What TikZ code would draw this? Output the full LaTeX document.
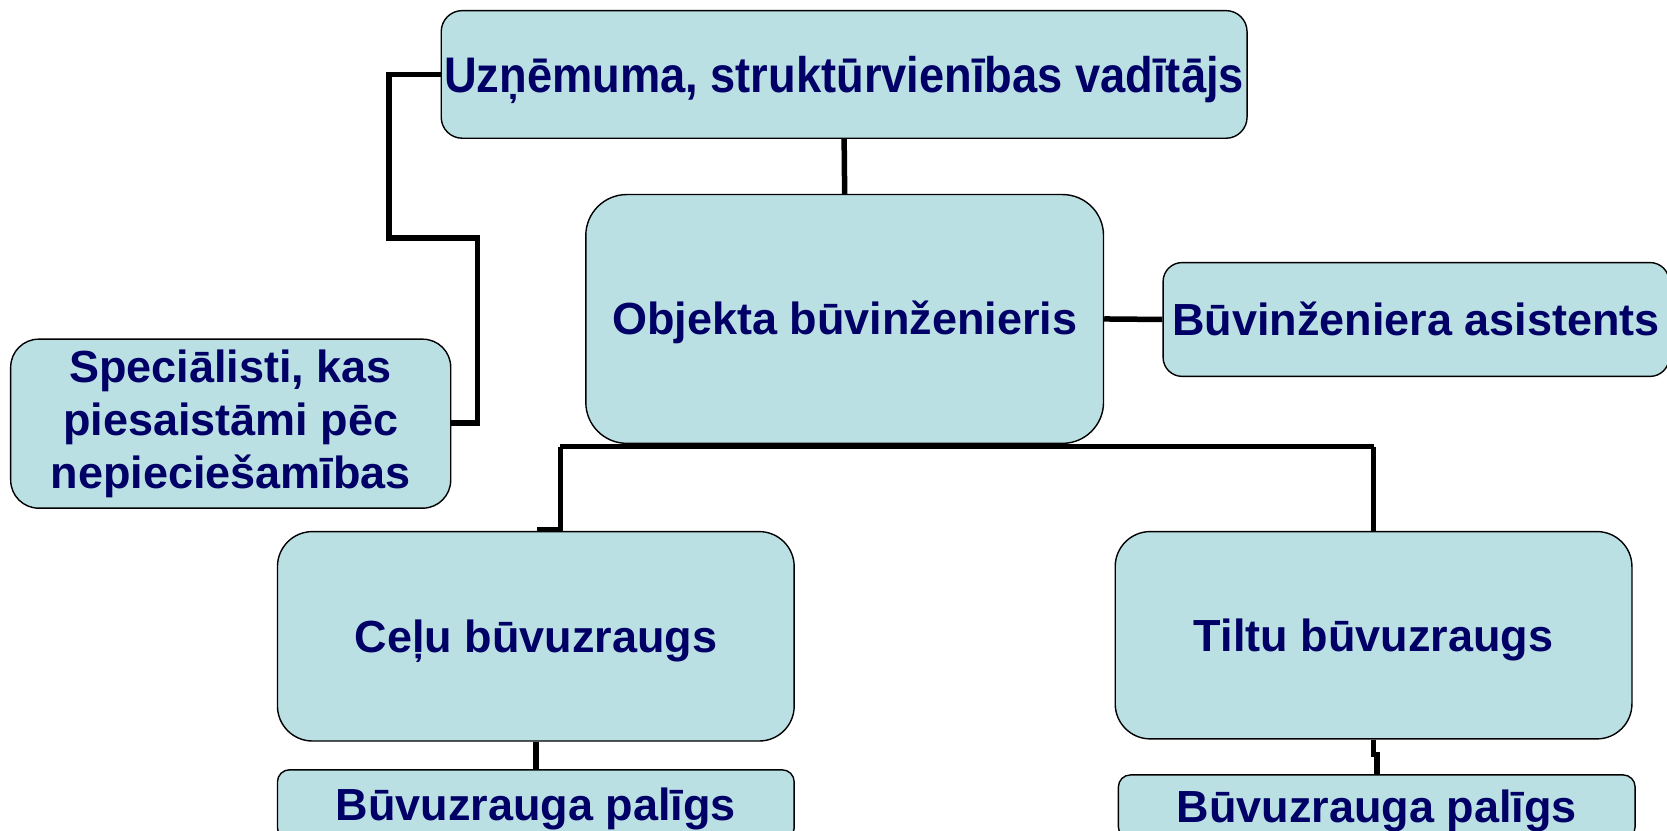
\documentclass[tikz,border=0pt]{standalone}
\usepackage{fontspec}
\setmainfont{Liberation Sans}
\definecolor{boxfill}{RGB}{187,224,227}
\definecolor{txtc}{RGB}{0,0,102}
\begin{document}
\begin{tikzpicture}[x=1.0631pt,y=-1.0631pt,
  box/.style={draw=black, line width=1.4pt, fill=boxfill, rounded corners=#1,
    text=txtc, inner sep=0pt, font=\fontsize{45}{53}\selectfont\bfseries},
  box/.default=20pt,
  one/.style={text height=40pt, text depth=8pt},
  conn/.style={line width=5.5pt, black}]
\useasboundingbox (0,0) rectangle (1568,781);
\clip (0,0) rectangle (1568,781);
\node[box=21pt, minimum width=805.8pt, minimum height=127.6pt,
  font=\fontsize{50}{58}\selectfont\bfseries, text height=44pt, text depth=8pt]
  (top) at (794,70) {\scalebox{0.905}[1]{Uzņēmuma, struktūrvienības vadītājs}};
\node[box=41pt, one, minimum width=517.7pt, minimum height=248.8pt]
  (obj) at (794.5,300) {Objekta būvinženieris};
\node[box=19pt, one, minimum width=506pt, minimum height=113.8pt]
  (asist) at (1332,300.5) {Būvinženiera asistents};
\node[box=28pt, align=center, minimum width=440pt, minimum height=169pt]
  (spec) at (217,398.5) {Speciālisti, kas\\piesaistāmi pēc\\nepieciešamības};
\node[box=35pt, one, minimum width=516.7pt, minimum height=209.4pt]
  (celu) at (504,598.5) {Ceļu būvuzraugs};
\node[box=35pt, one, minimum width=516.7pt, minimum height=207.3pt]
  (tiltu) at (1292,597.5) {Tiltu būvuzraugs};
\node[box=12pt, one, minimum width=516.7pt, minimum height=70pt]
  (palL) at (504,757) {Būvuzrauga palīgs};
\node[box=12pt, one, minimum width=516.7pt, minimum height=64pt]
  (palR) at (1295,759) {Būvuzrauga palīgs};
% connectors
\coordinate (b1) at (366,224);
\coordinate (b2) at (449,398);
\coordinate (hl) at (527,420);
\coordinate (hr) at (1292,420);
\coordinate (cj) at (505,498);
\draw[conn] (top.south) -- (obj.north);
\draw[conn] (top.west) -| (b1) -| (b2) -- (spec.east |- b2);
\draw[conn] (obj.east) -- (asist.west);
\draw[conn] (obj.south) -- (obj.south |- hl);
\draw[conn] (hl) -- (hr);
\draw[conn] (hl) |- (cj);
\draw[conn] (hr) -- (tiltu.north);
\draw[conn] (celu.south) -- (palL.north);
\draw[conn] (tiltu.south) -- ++(0,14) -| (palR.north);
\end{tikzpicture}
\end{document}
